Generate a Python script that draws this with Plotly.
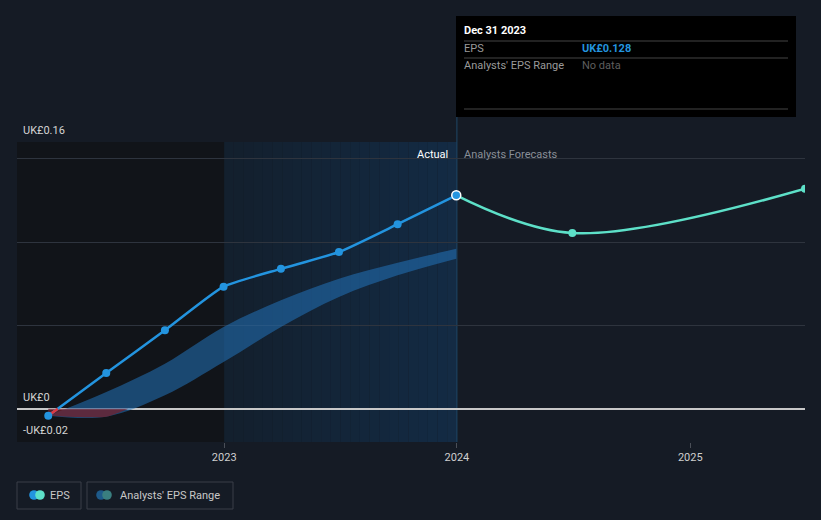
import numpy as np
import pandas as pd
import plotly.graph_objects as go

# ---------------- data ----------------
actual_dates = ["2022-03-31", "2022-06-30", "2022-09-30", "2022-12-31",
                "2023-03-31", "2023-06-30", "2023-09-30", "2023-12-31"]
actual_eps = [-0.0042, 0.0214, 0.047, 0.0732, 0.0839, 0.094, 0.1107, 0.128]

forecast_dates = ["2023-12-31", "2024-06-30", "2025-06-30"]
forecast_eps = [0.128, 0.1054, 0.132]

range_dates = ["2022-03-31", "2022-06-30", "2022-09-30", "2022-12-31",
               "2023-03-31", "2023-06-30", "2023-09-30", "2023-12-31"]
range_low = [-0.0042, -0.0048, 0.008, 0.028, 0.049, 0.067, 0.080, 0.090]
range_high = [-0.0042, 0.010, 0.027, 0.049, 0.065, 0.078, 0.0875, 0.096]

x_ticks = ["2023-01-01", "2024-01-01", "2025-01-01"]
x_tick_labels = ["2023", "2024", "2025"]
y_labels = [0.16, 0.0, -0.02]
y_label_text = ["UK£0.16", "UK£0", "-UK£0.02"]

# ---------------- style ----------------
BG = "#151b25"
BLUE = "#2394df"
TEAL = "#5de0c8"
FONT = "Roboto"
W, H = 821, 520
L, R, T, B = 17, 16, 142, 78
PW, PH = W - L - R, H - T - B


def px(x):
    return (x - L) / PW


def py(y):
    return (H - B - y) / PH


fig = go.Figure()

# analyst band (blue)
fig.add_trace(go.Scatter(x=range_dates, y=range_low, mode="lines",
                         line=dict(width=0, shape="spline", smoothing=1.0),
                         hoverinfo="skip", showlegend=False))
fig.add_trace(go.Scatter(x=range_dates, y=range_high, mode="lines", fill="tonexty",
                         fillcolor="rgba(35,115,185,0.55)",
                         line=dict(width=0, shape="spline", smoothing=1.0),
                         hoverinfo="skip", showlegend=False))

# red part of band below zero
rd = pd.to_datetime(range_dates)
neg_x, neg_y = [], []
for i in range(len(range_low)):
    if range_low[i] < 0:
        neg_x.append(rd[i])
        neg_y.append(range_low[i])
    elif i > 0 and range_low[i - 1] < 0:
        f = -range_low[i - 1] / (range_low[i] - range_low[i - 1])
        neg_x.append(rd[i - 1] + (rd[i] - rd[i - 1]) * f)
        neg_y.append(0.0)
        break
fig.add_trace(go.Scatter(x=neg_x + neg_x[::-1], y=neg_y + [0.0] * len(neg_y),
                         mode="lines", fill="toself", fillcolor="rgba(115,32,45,0.75)",
                         line=dict(width=0, shape="spline", smoothing=0.6),
                         hoverinfo="skip", showlegend=False))

# actual EPS line
fig.add_trace(go.Scatter(x=actual_dates, y=actual_eps, mode="lines",
                         line=dict(color=BLUE, width=2.5, shape="spline", smoothing=0.5),
                         hoverinfo="skip", showlegend=False))
# red segment below zero
ad = pd.to_datetime(actual_dates)
fz = -actual_eps[0] / (actual_eps[1] - actual_eps[0])
zero_x = ad[0] + (ad[1] - ad[0]) * fz
fig.add_trace(go.Scatter(x=[ad[0], zero_x], y=[actual_eps[0], 0.0], mode="lines",
                         line=dict(color="#e0383e", width=2.5),
                         hoverinfo="skip", showlegend=False))
# forecast line
fig.add_trace(go.Scatter(x=forecast_dates, y=forecast_eps, mode="lines",
                         line=dict(color=TEAL, width=2.5, shape="spline", smoothing=1.0),
                         hoverinfo="skip", showlegend=False))
# markers
fig.add_trace(go.Scatter(x=actual_dates[:-1], y=actual_eps[:-1], mode="markers",
                         marker=dict(color=BLUE, size=8),
                         hoverinfo="skip", showlegend=False))
fig.add_trace(go.Scatter(x=forecast_dates[1:], y=forecast_eps[1:], mode="markers",
                         marker=dict(color=TEAL, size=8),
                         hoverinfo="skip", showlegend=False))
fig.add_trace(go.Scatter(x=actual_dates[-1:], y=actual_eps[-1:], mode="markers",
                         marker=dict(color=BLUE, size=9, line=dict(color="white", width=1.5)),
                         hoverinfo="skip", showlegend=False))

shapes = []
x_start = pd.Timestamp("2022-02-10")
x_end = pd.Timestamp("2025-06-30")
# dark past region
shapes.append(dict(type="rect", xref="x", yref="paper", x0=x_start, x1="2023-01-01",
                   y0=0, y1=1, fillcolor="#111419", line=dict(width=0), layer="below"))
# gradient actual region
edges = pd.date_range("2023-01-01", "2024-01-01", periods=25)
c0 = np.array([0x13, 0x20, 0x2e])
c1 = np.array([0x14, 0x2b, 0x44])
for i in range(len(edges) - 1):
    t = i / (len(edges) - 2)
    c = (c0 + (c1 - c0) * t).astype(int)
    shapes.append(dict(type="rect", xref="x", yref="paper", x0=edges[i], x1=edges[i + 1],
                       y0=0, y1=1, fillcolor="rgb(%d,%d,%d)" % tuple(c),
                       line=dict(width=0), layer="below"))
# divider line
shapes.append(dict(type="line", xref="x", yref="paper", x0="2024-01-01", x1="2024-01-01",
                   y0=0, y1=py(16), line=dict(color="#1f4866", width=1), layer="between"))

# tooltip box
shapes.append(dict(type="rect", xref="paper", yref="paper", x0=px(456), x1=px(796),
                   y0=py(117), y1=py(16), fillcolor="#000000", line=dict(width=0),
                   layer="above"))
for yy in [41, 58, 109]:
    shapes.append(dict(type="line", xref="paper", yref="paper", x0=px(464), x1=px(788),
                       y0=py(yy), y1=py(yy), line=dict(color="#444444", width=1),
                       layer="above"))

# legend boxes
for (a, b) in [(17, 81), (87, 233)]:
    shapes.append(dict(type="rect", xref="paper", yref="paper", x0=px(a), x1=px(b),
                       y0=py(509), y1=py(482), fillcolor="rgba(0,0,0,0)",
                       line=dict(color="#3a3f48", width=1), layer="above"))
for cx, col in [(34, BLUE), (40, TEAL), (101, "#1e5a8a"), (107, "#3a7f80")]:
    r = 4.8
    shapes.append(dict(type="circle", xref="paper", yref="paper",
                       x0=px(cx - r), x1=px(cx + r), y0=py(495 + r), y1=py(495 - r),
                       fillcolor=col, line=dict(width=0), layer="above"))

fig.update_layout(shapes=shapes)

ann = []
for v, t in zip(y_labels, y_label_text):
    ann.append(dict(x=px(21), xref="paper", y=v, yref="y", text=t, showarrow=False,
                    xanchor="left", yanchor="bottom", yshift=3,
                    font=dict(color="#d4d4d4", size=11, family=FONT)))
ann.append(dict(x=px(450), xref="paper", y=py(154), yref="paper", text="Actual",
                showarrow=False, xanchor="right", yanchor="middle",
                font=dict(color="#ffffff", size=11, family=FONT)))
ann.append(dict(x=px(462), xref="paper", y=py(154), yref="paper", text="Analysts Forecasts",
                showarrow=False, xanchor="left", yanchor="middle",
                font=dict(color="#8a8f98", size=11, family=FONT)))
# tooltip text
ann.append(dict(x=px(462), xref="paper", y=py(31), yref="paper", text="<b>Dec 31 2023</b>",
                showarrow=False, xanchor="left", yanchor="middle",
                font=dict(color="#ffffff", size=11, family=FONT)))
ann.append(dict(x=px(462), xref="paper", y=py(49), yref="paper", text="EPS",
                showarrow=False, xanchor="left", yanchor="middle",
                font=dict(color="#9a9a9a", size=11, family=FONT)))
ann.append(dict(x=px(580), xref="paper", y=py(49), yref="paper",
                text="<b>UK£%.3f</b>" % actual_eps[-1],
                showarrow=False, xanchor="left", yanchor="middle",
                font=dict(color=BLUE, size=11, family=FONT)))
ann.append(dict(x=px(462), xref="paper", y=py(66), yref="paper", text="Analysts' EPS Range",
                showarrow=False, xanchor="left", yanchor="middle",
                font=dict(color="#9a9a9a", size=11, family=FONT)))
ann.append(dict(x=px(580), xref="paper", y=py(66), yref="paper", text="No data",
                showarrow=False, xanchor="left", yanchor="middle",
                font=dict(color="#5e5e5e", size=11, family=FONT)))
# legend text
ann.append(dict(x=px(48), xref="paper", y=py(495), yref="paper", text="EPS",
                showarrow=False, xanchor="left", yanchor="middle",
                font=dict(color="#c8c8c8", size=11, family=FONT)))
ann.append(dict(x=px(118), xref="paper", y=py(495), yref="paper", text="Analysts' EPS Range",
                showarrow=False, xanchor="left", yanchor="middle",
                font=dict(color="#c8c8c8", size=11, family=FONT)))

fig.update_layout(
    annotations=ann,
    width=W, height=H,
    margin=dict(l=L, r=R, t=T, b=B, pad=0),
    paper_bgcolor=BG, plot_bgcolor=BG,
    showlegend=False,
    font=dict(family=FONT, color="#d4d4d4", size=11),
    xaxis=dict(type="date", range=[x_start, x_end], showgrid=False, zeroline=False,
               tickvals=x_ticks, ticktext=x_tick_labels, ticks="outside", ticklen=5,
               tickcolor="#4a4f58", tickfont=dict(color="#cfcfcf", size=11, family=FONT),
               showline=False, fixedrange=True),
    yaxis=dict(range=[-0.02, 0.16], tickvals=[-0.02, 0.05, 0.10, 0.15, 0.16],
               showticklabels=False, showgrid=True, gridcolor="#2e343e", gridwidth=1,
               zeroline=True, zerolinecolor="#c8c8c8", zerolinewidth=2,
               showline=False, fixedrange=True),
)

fig.write_html("out.html", config={"displayModeBar": False},
               post_script="document.body.style.margin='0';"
                           "document.body.style.background='%s';" % BG)
